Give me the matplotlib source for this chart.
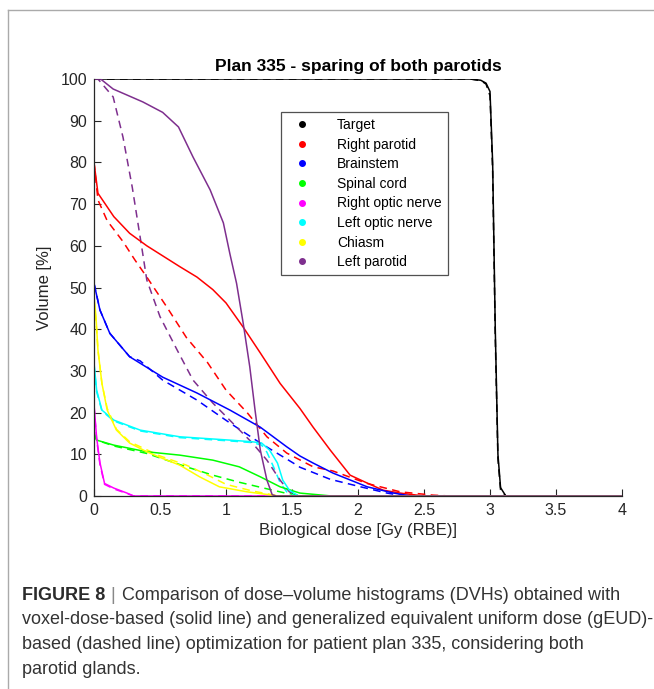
import matplotlib
matplotlib.use('Agg')
import matplotlib.pyplot as plt
from matplotlib.lines import Line2D

plt.rcParams['font.family'] = ['Liberation Sans', 'DejaVu Sans']

# ========== data ==========
structures = ['Target', 'Right parotid', 'Brainstem', 'Spinal cord',
              'Right optic nerve', 'Left optic nerve', 'Chiasm', 'Left parotid']
colors = ['#000000', '#ff0000', '#0000ff', '#00ff00',
          '#ff00ff', '#00ffff', '#ffff00', '#7e2f8e']

# solid = voxel-dose-based, dashed = gEUD-based
target_x = [0, 2.85, 2.93, 2.97, 3.0, 3.02, 3.04, 3.06, 3.08, 3.12, 4.0]
target_y = [100, 100, 99.7, 99, 97, 80, 40, 10, 2, 0, 0]
target_x_d = [0, 2.85, 2.93, 2.97, 3.0, 3.02, 3.04, 3.06, 3.08, 3.12, 4.0]
target_y_d = [100, 100, 99.6, 98.8, 96, 78, 38, 9, 1.5, 0, 0]

rpar_x = [0, 0.03, 0.15, 0.27, 0.4, 0.55, 0.65, 0.78, 0.9, 1.0, 1.13, 1.26, 1.41,
          1.56, 1.66, 1.79, 1.94, 2.07, 2.19, 2.32, 2.5, 4.0]
rpar_y = [80, 72.6, 67, 63, 60, 57, 55, 52.5, 49.5, 46.3, 40.5, 34.3, 27, 21,
          16.5, 11, 5, 3.1, 1.4, 0.7, 0, 0]
rpar_x_d = [0, 0.03, 0.1, 0.22, 0.31, 0.4, 0.55, 0.7, 0.86, 1.0, 1.16, 1.31, 1.46,
            1.66, 1.81, 2.07, 2.32, 2.57, 2.7, 4.0]
rpar_y_d = [80, 71, 66, 61, 56.6, 52.5, 45.4, 38, 32, 25.4, 20, 14.2, 10.3,
            7, 6.0, 3, 1, 0.2, 0, 0]

bs_x = [0, 0.045, 0.12, 0.27, 0.52, 0.78, 1.03, 1.26, 1.46, 1.56, 1.66, 1.81,
        2.07, 2.27, 2.4, 4.0]
bs_y = [51, 44.6, 39, 33.4, 28.5, 24.7, 20.6, 16.5, 11.8, 9.6, 7.9, 5.5, 2.2, 0.7, 0, 0]
bs_x_d = [0, 0.045, 0.12, 0.27, 0.35, 0.52, 0.78, 1.03, 1.26, 1.51, 1.56, 1.79,
          2.02, 2.22, 2.35, 4.0]
bs_y_d = [51, 44.6, 39, 33.4, 32.4, 27.8, 23, 17.5, 12.7, 7.9, 6.9, 4.0, 2.2, 0.7, 0, 0]

sc_x = [0, 0.02, 0.15, 0.4, 0.65, 0.9, 1.1, 1.26, 1.41, 1.56, 1.8, 4.0]
sc_y = [15, 13.4, 12.2, 10.6, 9.8, 8.6, 7, 4.6, 2.2, 0.7, 0, 0]
sc_x_d = [0, 0.02, 0.15, 0.4, 0.55, 0.7, 0.9, 1.1, 1.3, 1.45, 1.6, 4.0]
sc_y_d = [15, 13.4, 12, 10.2, 8.6, 7, 5, 3.3, 1.8, 0.7, 0, 0]

ron_x = [0, 0.02, 0.045, 0.08, 0.15, 0.25, 0.3, 4.0]
ron_y = [22, 14, 8, 3, 1.9, 0.7, 0, 0]
ron_x_d = [0, 0.02, 0.045, 0.08, 0.15, 0.25, 0.3, 4.0]
ron_y_d = [21.5, 13.5, 7.6, 2.8, 1.7, 0.6, 0, 0]

lon_x = [0, 0.02, 0.06, 0.15, 0.35, 0.65, 1.03, 1.2, 1.27, 1.33, 1.39, 1.43,
         1.48, 1.55, 4.0]
lon_y = [32, 25.4, 20.6, 18.2, 15.8, 14.2, 13.4, 13, 12.7, 11, 7.9, 3.8, 1.4, 0, 0]
lon_x_d = [0, 0.02, 0.06, 0.15, 0.35, 0.65, 1.03, 1.2, 1.27, 1.31, 1.36, 1.41,
           1.46, 1.52, 4.0]
lon_y_d = [31.5, 25, 20.4, 18, 15.6, 14, 13.2, 12.8, 12.2, 10.5, 7, 3.2, 1, 0, 0]

chi_x = [0, 0.015, 0.03, 0.06, 0.1, 0.17, 0.27, 0.4, 0.52, 0.65, 0.8, 0.95,
         1.16, 1.4, 4.0]
chi_y = [48, 43, 35, 27, 20.6, 15.8, 12.7, 10.6, 9, 7.4, 4.6, 2.2, 1, 0, 0]
chi_x_d = [0, 0.015, 0.03, 0.06, 0.1, 0.17, 0.27, 0.5, 0.7, 0.85, 1.0, 1.2,
           1.4, 4.0]
chi_y_d = [47, 42, 35, 27, 21, 16, 13, 9.6, 7.4, 5.2, 2.8, 1.2, 0, 0]

lpar_x = [0, 0.05, 0.145, 0.37, 0.52, 0.64, 0.75, 0.88, 0.98, 1.03, 1.08, 1.13,
          1.18, 1.22, 1.26, 1.31, 1.35, 1.38, 4.0]
lpar_y = [100, 100, 97.6, 94.5, 92, 88.5, 81.3, 73.4, 65.5, 58, 51, 41.5,
          31, 20.6, 11, 3.8, 0.3, 0, 0]
lpar_x_d = [0, 0.03, 0.145, 0.22, 0.29, 0.36, 0.40, 0.5, 0.63, 0.75, 0.9, 1.05,
            1.2, 1.31, 1.41, 1.48, 1.55, 4.0]
lpar_y_d = [100, 100, 95.7, 86, 74, 60, 51.8, 43, 35, 27.8, 22.3, 17.5,
            12.7, 8.6, 3.8, 1, 0, 0]

solid_x = [target_x, rpar_x, bs_x, sc_x, ron_x, lon_x, chi_x, lpar_x]
solid_y = [target_y, rpar_y, bs_y, sc_y, ron_y, lon_y, chi_y, lpar_y]
dashed_x = [target_x_d, rpar_x_d, bs_x_d, sc_x_d, ron_x_d, lon_x_d, chi_x_d, lpar_x_d]
dashed_y = [target_y_d, rpar_y_d, bs_y_d, sc_y_d, ron_y_d, lon_y_d, chi_y_d, lpar_y_d]

x_ticks = [0, 0.5, 1, 1.5, 2, 2.5, 3, 3.5, 4]
y_ticks = [0, 10, 20, 30, 40, 50, 60, 70, 80, 90, 100]

# ========== figure ==========
fig = plt.figure(figsize=(6.54, 6.89), dpi=100)
ax = fig.add_axes([94 / 654, 1 - 496 / 689, 528 / 654, 417 / 689])

for i in range(len(structures)):
    ax.plot(dashed_x[i], dashed_y[i], color=colors[i], lw=1.1, ls=(0, (5, 3.5)))
for i in range(len(structures)):
    ax.plot(solid_x[i], solid_y[i], color=colors[i], lw=1.1)

ax.set_xlim(0, 4)
ax.set_ylim(0, 100)
ax.set_xticks(x_ticks)
ax.set_xticklabels([f'{t:g}' for t in x_ticks])
ax.set_yticks(y_ticks)
ax.tick_params(direction='in', length=5, width=0.8, labelsize=11.5, colors='#262626',
               pad=5)
ax.spines['top'].set_visible(False)
ax.spines['right'].set_visible(False)
for s in ['left', 'bottom']:
    ax.spines[s].set_color('#262626')
    ax.spines[s].set_linewidth(0.9)

ax.set_title('Plan 335 - sparing of both parotids', fontsize=12.5,
             fontweight='bold', pad=6)
ax.set_xlabel('Biological dose [Gy (RBE)]', fontsize=12, color='#262626', labelpad=4)
ax.set_ylabel('Volume [%]', fontsize=12, color='#262626', labelpad=6)

handles = [Line2D([], [], ls='none', marker='o', ms=4, color=c) for c in colors]
leg = ax.legend(handles, structures, loc='upper left', bbox_to_anchor=(0.354, 0.921),
                fontsize=10, frameon=True, fancybox=False, edgecolor='#262626',
                labelspacing=0.4, handletextpad=1.4, borderpad=0.45,
                handlelength=2.2, borderaxespad=0)
leg.get_frame().set_linewidth(0.9)

# page frame (top and left border)
fig.add_artist(Line2D([8 / 654, 1], [1 - 10 / 689, 1 - 10 / 689],
                      color='#aaaaaa', lw=1))
fig.add_artist(Line2D([8 / 654, 8 / 654], [0, 1 - 10 / 689],
                      color='#aaaaaa', lw=1))

# caption
cap_x = 22 / 654
cap_lines = [
    'Comparison of dose\u2013volume histograms (DVHs) obtained with',
    'voxel-dose-based (solid line) and generalized equivalent uniform dose (gEUD)-',
    'based (dashed line) optimization for patient plan 335, considering both',
    'parotid glands.',
]
fig.text(cap_x, 1 - 596 / 689, 'FIGURE 8', fontsize=13, fontweight='bold',
         color='#2b2b2b', va='center')
fig.text(cap_x + 88 / 654, 1 - 596 / 689, '|', fontsize=13, color='#888888', va='center')
fig.text(cap_x + 100 / 654, 1 - 596 / 689, cap_lines[0], fontsize=13,
         color='#333333', va='center')
for k, line in enumerate(cap_lines[1:]):
    fig.text(cap_x, 1 - (620 + 24.5 * k) / 689, line, fontsize=13,
             color='#333333', va='center')

fig.savefig('out.png', dpi=100)
